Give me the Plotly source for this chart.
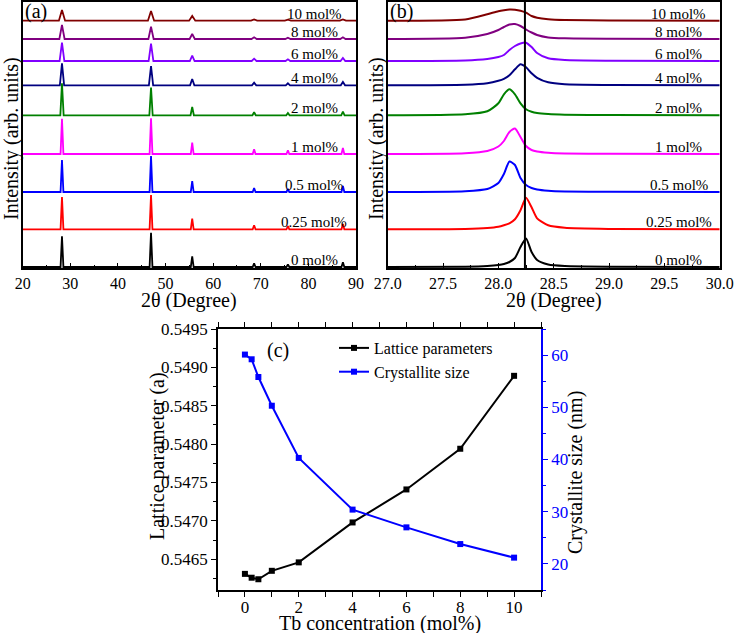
import plotly.graph_objects as go

# ---- data ----
SAMPLES = ["0 mol%", "0.25 mol%", "0.5 mol%", "1 mol%", "2 mol%",
           "4 mol%", "6 mol%", "8 mol%", "10 mol%"]
COLORS = ["#000000", "#FF0000", "#0000FF", "#FF00FF", "#008000",
          "#000080", "#8000FF", "#800080", "#800000"]
# vertical offset of each stacked pattern (arb. units)
OFFSETS = [1, 38.7, 76, 114, 152.7, 182.7, 207, 229, 247.3]

# (a) wide-range XRD: peak positions, heights per sample, peak half-width at base
PEAK_POS_A = [28.25, 46.95, 55.6, 68.6, 75.7, 87.25]
PEAK_H_A = [
    [30.7, 34.3, 10.7, 3.7, 2.7, 4.7],
    [32.3, 34.3, 10.7, 4.0, 3.3, 5.3],
    [32.0, 36.0, 11.0, 4.0, 3.0, 6.0],
    [35.3, 35.7, 11.3, 4.7, 3.7, 6.0],
    [32.0, 27.7, 8.3, 3.0, 2.3, 3.7],
    [22.0, 19.3, 6.3, 2.7, 2.0, 3.3],
    [18.3, 17.3, 5.3, 2.3, 1.7, 3.0],
    [14.0, 12.3, 5.0, 1.7, 1.3, 1.7],
    [10.7, 9.7, 4.7, 1.3, 1.0, 1.3],
]
PEAK_W_A = [0.3, 0.3, 0.3, 0.3, 0.35, 0.45, 0.5, 0.55, 0.65]

# (b) zoom on the (111) reflection
X_B = [27.0, 27.7, 27.9, 28.0, 28.05, 28.1, 28.15, 28.2, 28.25, 28.3, 28.35, 28.45, 28.6, 29.0, 30.0]
Y_B = [
    [0, 0.3, 1.0, 2.0, 3.0, 5.0, 9.0, 20.0, 28.5, 15.0, 7.0, 2.5, 1.0, 0.3, 0],
    [0, 0.3, 1.2, 2.5, 4.0, 6.0, 10.0, 19.0, 31.5, 22.0, 11.0, 4.0, 1.5, 0.4, 0],
    [0, 0.8, 3.0, 9.0, 18.0, 30.5, 27.0, 14.0, 7.0, 4.0, 2.5, 1.3, 0.6, 0.2, 0],
    [0, 0.8, 3.0, 7.5, 13.0, 22.0, 25.5, 17.0, 8.0, 4.0, 2.5, 1.3, 0.6, 0.2, 0],
    [0, 1.0, 4.0, 12.0, 21.0, 26.0, 21.0, 12.0, 6.0, 3.5, 2.2, 1.2, 0.6, 0.2, 0],
    [0, 0.5, 2.0, 4.5, 6.5, 10.0, 16.0, 21.0, 18.0, 12.0, 7.5, 3.0, 1.0, 0.3, 0],
    [0, 0.5, 2.0, 4.0, 6.0, 11.0, 15.0, 17.5, 18.3, 14.0, 8.0, 2.7, 1.0, 0.3, 0],
    [0, 1.3, 5.0, 9.0, 12.0, 14.5, 15.0, 13.0, 9.5, 6.5, 4.0, 1.6, 0.7, 0.3, 0],
    [0, 1.3, 6.5, 9.5, 10.5, 11.2, 11.0, 10.0, 8.0, 4.7, 3.0, 1.5, 0.7, 0.3, 0],
]
REF_PEAK_B = 28.24

# (c) lattice parameter and crystallite size vs Tb concentration
TB_CONC = [0, 0.25, 0.5, 1, 2, 4, 6, 8, 10]
LATTICE = [0.54631, 0.54626, 0.54624, 0.54635, 0.54646, 0.54698, 0.54741, 0.54794, 0.54889]
CRYST_SIZE = [60.1, 59.2, 55.8, 50.3, 40.3, 30.4, 27.0, 23.8, 21.2]

FONT = "Liberation Serif"
W, H = 734, 633

fig = go.Figure()

# panel (a)
for i, name in enumerate(SAMPLES):
    xs, ys = [20.0], [OFFSETS[i]]
    w = PEAK_W_A[i]
    for p, h in zip(PEAK_POS_A, PEAK_H_A[i]):
        xs += [p - w, p, p + w]
        ys += [OFFSETS[i], OFFSETS[i] + h, OFFSETS[i]]
    xs.append(90.0)
    ys.append(OFFSETS[i])
    fig.add_trace(go.Scatter(x=xs, y=ys, mode="lines", xaxis="x", yaxis="y",
                             line=dict(color=COLORS[i], width=1.8),
                             showlegend=False, hoverinfo="skip"))

# panel (b)
for i, name in enumerate(SAMPLES):
    fig.add_trace(go.Scatter(x=X_B, y=[OFFSETS[i] + v for v in Y_B[i]],
                             mode="lines", xaxis="x2", yaxis="y2",
                             line=dict(color=COLORS[i], width=2, shape="spline", smoothing=0.6),
                             showlegend=False, hoverinfo="skip"))

# panel (c)
fig.add_trace(go.Scatter(x=TB_CONC, y=LATTICE, mode="lines+markers", name="Lattice parameters",
                         xaxis="x3", yaxis="y3",
                         line=dict(color="black", width=2),
                         marker=dict(symbol="square", size=6, color="black")))
fig.add_trace(go.Scatter(x=TB_CONC, y=CRYST_SIZE, mode="lines+markers", name="Crystallite size",
                         xaxis="x3", yaxis="y4",
                         line=dict(color="#0000FF", width=2),
                         marker=dict(symbol="square", size=6, color="#0000FF")))

tickfont = dict(family=FONT, size=16, color="black")
tickfont_c = dict(family=FONT, size=17, color="black")

xy_a = dict(showline=True, linecolor="black", linewidth=1.5, mirror=True,
            showgrid=False, zeroline=False, automargin=False)

dom_y_ab = [1 - 268 / H, 1 - 1.5 / H]

fig.update_layout(
    width=W, height=H,
    margin=dict(l=0, r=0, t=0, b=0),
    paper_bgcolor="white", plot_bgcolor="white",
    font=dict(family=FONT, color="black"),
    xaxis=dict(domain=[22.7 / W, 356 / W], range=[20, 90], dtick=10,
               ticks="inside", ticklen=5, tickwidth=1.2, tickcolor="black",
               minor=dict(dtick=5, ticks="inside", ticklen=3, tickcolor="black"),
               tickfont=tickfont, anchor="y", **xy_a),
    yaxis=dict(domain=dom_y_ab, range=[0, 266.5], showticklabels=False, ticks="",
               anchor="x", **xy_a),
    xaxis2=dict(domain=[387.7 / W, 719.7 / W], range=[27.0, 30.0], dtick=0.5,
                tickformat=".1f",
                ticks="inside", ticklen=5, tickwidth=1.2, tickcolor="black",
                minor=dict(dtick=0.25, ticks="inside", ticklen=3, tickcolor="black"),
                tickfont=tickfont, anchor="y2", **xy_a),
    yaxis2=dict(domain=dom_y_ab, range=[0, 266.5], showticklabels=False, ticks="",
                anchor="x2", **xy_a),
    xaxis3=dict(domain=[218 / W, 541 / W], range=[-1, 11], dtick=2,
                ticks="outside", ticklen=5, tickwidth=1.2, tickcolor="black",
                minor=dict(dtick=1, ticks="outside", ticklen=3, tickcolor="black"),
                tickfont=tickfont_c, ticklabelstandoff=-4,
                showline=True, linecolor="black", linewidth=1.5, mirror="allticks",
                showgrid=False, zeroline=False, automargin=False, anchor="y3"),
    yaxis3=dict(domain=[1 - 590 / H, 1 - 329 / H], range=[0.5461, 0.5495], dtick=0.0005,
                tickformat=".4f",
                ticks="outside", ticklen=5, tickwidth=1.2, tickcolor="black",
                minor=dict(dtick=0.00025, ticks="outside", ticklen=3, tickcolor="black"),
                tickfont=tickfont_c,
                showline=True, linecolor="black", linewidth=1.5,
                showgrid=False, zeroline=False, automargin=False, anchor="x3"),
    yaxis4=dict(domain=[1 - 590 / H, 1 - 329 / H], range=[15, 65], dtick=10,
                overlaying="y3", side="right", anchor="x3",
                ticks="outside", ticklen=5, tickwidth=1.2, tickcolor="#0000FF",
                minor=dict(dtick=5, ticks="outside", ticklen=3, tickcolor="#0000FF"),
                tickfont=dict(family=FONT, size=17, color="#0000FF"),
                showline=True, linecolor="#0000FF", linewidth=1.5,
                showgrid=False, zeroline=False, automargin=False),
    legend=dict(x=334 / W, y=1 - 331 / H, xanchor="left", yanchor="top",
                bgcolor="rgba(0,0,0,0)", font=dict(family=FONT, size=16, color="black"),
                itemwidth=30, tracegroupgap=0),
)

# reference line at the undoped peak position in (b)
fig.add_shape(type="line", xref="x2", yref="y2 domain", x0=REF_PEAK_B, x1=REF_PEAK_B,
              y0=0, y1=1, line=dict(color="black", width=2))

# sample labels
for i, name in enumerate(SAMPLES):
    for xr, yr, xpos in (("x", "y", 81.2), ("x2", "y2", 29.63)):
        fig.add_annotation(x=xpos, y=OFFSETS[i] + 7, xref=xr, yref=yr, text=name,
                           showarrow=False, xanchor="center", yanchor="middle",
                           font=dict(family=FONT, size=15, color="black"))

# axis titles and panel letters (pixel positions in the figure)
LABELS = [
    ("2θ (Degree)", 189, 300, 0, "center"),
    ("2θ (Degree)", 554, 300, 0, "center"),
    ("Intensity (arb. units)", 12, 139, -90, "center"),
    ("Intensity (arb. units)", 377, 139, -90, "center"),
    ("Tb concentration (mol%)", 380, 623, 0, "center"),
    ("Lattice parameter (a)", 157, 456, -90, "center"),
    ("Crystallite size (nm)", 575, 473, -90, "center"),
    ("(a)", 23, 12, 0, "left"),
    ("(b)", 388, 12, 0, "left"),
    ("(c)", 265, 350, 0, "left"),
]
for txt, px, py, ang, xa in LABELS:
    fig.add_annotation(x=px / W, y=1 - py / H, xref="paper", yref="paper", text=txt,
                       showarrow=False, xanchor=xa, yanchor="middle", textangle=ang,
                       font=dict(family=FONT, size=20, color="black"))

fig.write_html("out.html", config={"displayModeBar": False},
               post_script="document.body.style.margin='0px';")
